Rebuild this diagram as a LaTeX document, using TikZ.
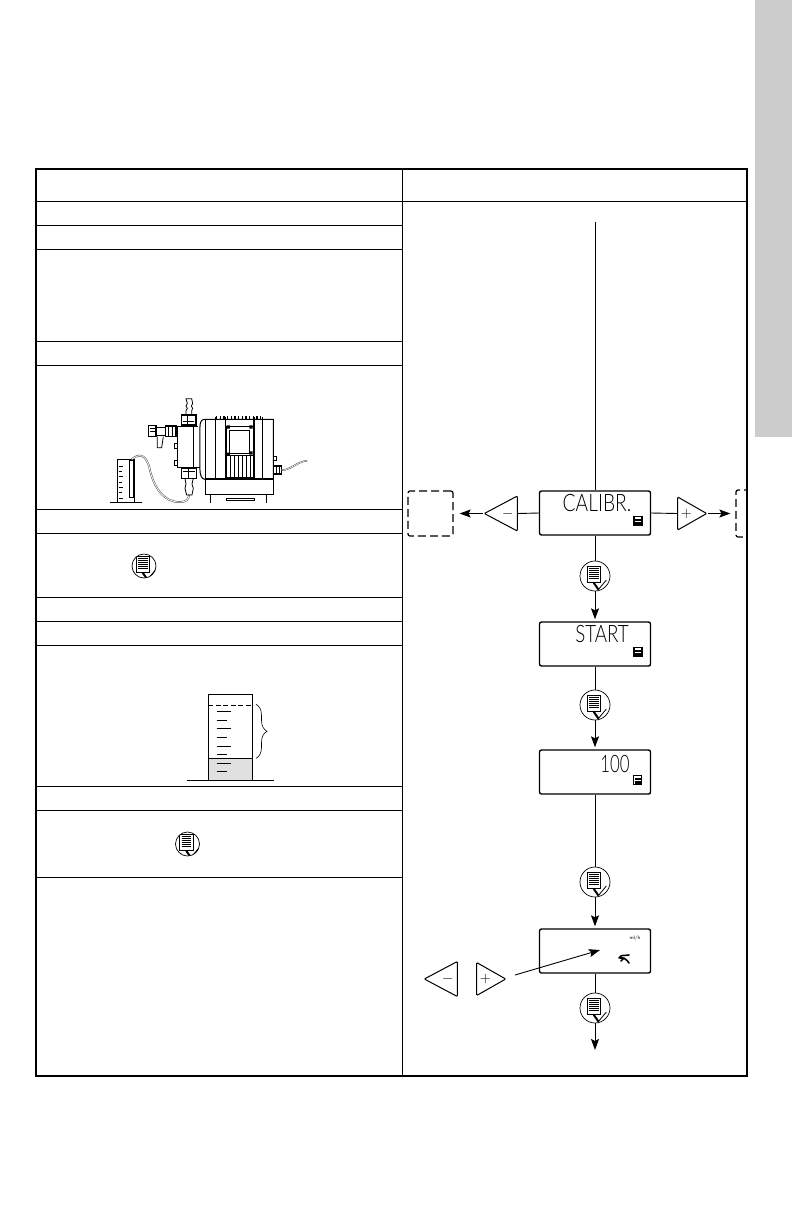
\documentclass[tikz,border=0pt]{standalone}
\usepackage{fontspec}
\newfontfamily\lcdfont[UprightFont=* Light]{Lato}
\usetikzlibrary{arrows.meta, shapes.geometric, decorations.pathreplacing, positioning}
\definecolor{tabgray}{gray}{0.8}
\definecolor{fillgray}{gray}{0.88}
\tikzset{menubtn/.style={circle,draw,line width=0.7pt,inner sep=0pt,minimum size=30pt*#1,path picture={
			\begin{scope}[shift={(path picture bounding box.center)},scale=#1]
			\draw[line width=1pt,fill=white] (-8,-10) rectangle (5.7,6);
			\draw[line width=0.8pt] (-6,-7.5)--(3.7,-7.5) (-6,-5.5)--(3.7,-5.5) (-6,-3.5)--(3.7,-3.5) (-6,-1.5)--(3.7,-1.5) (-6,0.5)--(3.7,0.5) (-6,2.5)--(3.7,2.5);
			\draw[line width=2pt] (-1.2,6.8)--(3.4,13.6);
			\draw[line width=0.8pt] (3.4,13.6)--(11.3,4);
			\end{scope}
}}}
\tikzset{lcd/.style={draw,line width=1.4pt,rounded corners=2pt,minimum width=111pt,minimum height=44pt,inner sep=0pt}}
\tikzset{lcdtext/.style={inner sep=0pt,font=\lcdfont\fontsize{24}{24}\selectfont}}
\tikzset{lcdbat/.style={draw,line width=1.1pt,minimum width=8pt,minimum height=9pt,inner sep=0pt,path picture={
			\fill[black] ([shift={(1pt,1pt)}]path picture bounding box.south west) rectangle ([shift={(-1pt,-2.5pt)}]path picture bounding box.north east);
			\draw[white,line width=0.5pt] (path picture bounding box.west)--(path picture bounding box.east);
}}}
\tikzset{dashbox/.style={draw,line width=1.2pt,dash pattern=on 8pt off 4pt,rounded corners=2pt,inner sep=0pt}}
\tikzset{keyleft/.style={isosceles triangle,isosceles triangle stretches,shape border rotate=180,draw,line width=1pt,inner sep=0pt,rounded corners=1pt,minimum width=35pt,minimum height=33pt,font=\Large}}
\tikzset{keyright/.style={isosceles triangle,isosceles triangle stretches,draw,line width=1pt,inner sep=0pt,rounded corners=1pt,minimum width=33pt,minimum height=29pt,font=\Large}}
\tikzset{flow/.style={line width=0.9pt,-{Stealth[length=11pt,width=8pt,inset=2pt]}}}
\tikzset{rowline/.style={line width=1pt}}
\tikzset{pumpline/.style={line width=0.8pt}}
\begin{document}
\begin{tikzpicture}[x=1pt,y=-1pt]
			\useasboundingbox (0,0) rectangle (792,1224);
			\fill[tabgray] (755,0) rectangle (792,437);
			% Rows of the left column
			\draw[rowline] (36,225) -- (402,225);
			\draw[rowline] (36,249) -- (402,249);
			\draw[rowline] (36,341) -- (402,341);
			\draw[rowline] (36,365) -- (402,365);
			\draw[rowline] (36,509) -- (402,509);
			\draw[rowline] (36,533) -- (402,533);
			\draw[rowline] (36,597) -- (402,597);
			\draw[rowline] (36,621) -- (402,621);
			\draw[rowline] (36,645) -- (402,645);
			\draw[rowline] (36,786) -- (402,786);
			\draw[rowline] (36,810) -- (402,810);
			\draw[rowline] (36,877) -- (402,877);
			\draw[rowline] (36,201) -- (747,201);
			\draw[rowline] (402.5,169) -- (402.5,1076);
			% Pump
			\begin{scope}[shift={(100,380)},x=0.3333pt,y=-0.3333pt,pumpline]
			\draw[line width=1pt] (30,368) -- (125,368);
			\draw[line width=1pt] (52,368) -- (52,238) -- (104,238) -- (104,368);
			\draw (88,352) rectangle (100,240);
			\draw (56,258) -- (70,258) (56,274) -- (66,274) (56,290) -- (70,290) (56,306) -- (66,306) (56,322) -- (70,322) (56,338) -- (66,338) (56,354) -- (70,354);
			\draw[black!70,double=white,double distance=0.8pt,line width=0.5pt] (95,238) .. controls (115,222) and (135,218) .. (148,262) .. controls (160,320) and (190,368) .. (240,366) .. controls (258,366) and (266,360) .. (268,342);
			\draw[line width=1pt] (232,140) rectangle (280,262);
			\draw (222,190) rectangle (232,205) (222,242) rectangle (232,256);
			\draw[line width=1.3pt] (245,105) rectangle (288,135);
			\draw (250,125) -- (283,125) (262,105) -- (262,135);
			\draw (258,105) -- (258,92) -- (262,85) -- (258,78) -- (262,70) -- (258,56) -- (275,56) -- (278,70) -- (274,78) -- (278,85) -- (275,92) -- (275,105);
			\draw[line width=1.3pt] (245,265) rectangle (290,295);
			\draw (250,275) -- (285,275) (266,265) -- (266,295);
			\draw (255,295) -- (258,312) -- (255,325) -- (260,345) -- (276,345) -- (280,325) -- (276,312) -- (280,295);
			\draw[line width=1.3pt] (146,137) rectangle (168,170);
			\draw (150,145) -- (164,145) (150,155) -- (164,155);
			\draw (168,142) -- (196,142) (168,165) -- (196,165);
			\draw[line width=1.3pt] (196,138) rectangle (228,170);
			\draw (205,138) -- (205,170) (216,138) -- (216,170);
			\draw (172,170) -- (172,203) -- (185,203) -- (190,170);
			\draw (280,140) -- (295,140) (280,262) -- (300,262);
			\draw[line width=1pt] (300,140) .. controls (300,125) and (305,118) .. (315,118) -- (520,118) -- (520,298) -- (315,298) .. controls (305,298) and (300,285) .. (300,270) -- cycle;
			\draw (315,118) -- (315,298);
			\draw (345,110) -- (345,296) (375,110) -- (375,296);
			\draw[line width=1.4pt] (462,110) -- (462,296) (487,110) -- (487,296);
			\draw[line width=1.1pt] (350,108) -- (350,118) (361,108) -- (361,118) (372,108) -- (372,118) (383,108) -- (383,118) (394,108) -- (394,118) (405,108) -- (405,118) (416,108) -- (416,118) (427,108) -- (427,118) (438,108) -- (438,118) (449,108) -- (449,118) (460,108) -- (460,118) (471,108) -- (471,118) (482,108) -- (482,118);
			\draw[line width=1pt] (380,140) rectangle (460,226);
			\draw[line width=1pt] (390,150) rectangle (448,222);
			\fill (380,136) rectangle (390,146) (448,136) rectangle (458,146) (380,218) rectangle (390,228) (448,214) rectangle (458,224);
			\draw (378,226) -- (378,292) -- (460,292) (390,226) -- (390,292) (402,226) -- (402,292) (414,226) -- (414,292) (426,226) -- (426,292) (438,226) -- (438,292) (450,226) -- (450,292);
			\draw[line width=1.8pt] (315,296) -- (520,296);
			\draw[line width=1pt] (317,298) -- (317,345) -- (520,345) -- (520,298);
			\draw (330,345) -- (330,370) (500,345) -- (500,370) (378,355) rectangle (462,362);
			\draw (520,228) rectangle (530,242);
			\draw[line width=1.3pt] (520,258) rectangle (545,282);
			\draw (530,258) -- (530,282) (538,258) -- (538,282);
			\draw[black!70,double=white,double distance=0.6pt,line width=0.5pt] (545,270) .. controls (570,272) and (590,245) .. (622,242);
			\end{scope}
			% Measuring glass
			\fill[fillgray] (208.3,758.3) rectangle (252.3,780.3);
			\draw[line width=0.8pt] (208.3,694.3) rectangle (252.3,780.3);
			\draw[line width=0.8pt] (208.3,758.3) -- (252.3,758.3);
			\draw[line width=0.8pt] (187.3,780.3) -- (274,780.3);
			\draw[line width=0.8pt,dash pattern=on 5pt off 2.5pt] (208.3,705.3) -- (252.3,705.3);
			\draw[line width=0.7pt] (216.7,711.3) -- (231,711.3);
			\draw[line width=0.7pt] (216.7,720.3) -- (226.7,720.3);
			\draw[line width=0.7pt] (216.7,728.3) -- (231,728.3);
			\draw[line width=0.7pt] (216.7,737.3) -- (226.7,737.3);
			\draw[line width=0.7pt] (216.7,746.3) -- (231,746.3);
			\draw[line width=0.7pt] (216.7,754.3) -- (226.7,754.3);
			\draw[line width=0.7pt] (216.7,763.3) -- (231,763.3);
			\draw[line width=0.7pt] (216.7,771.3) -- (226.7,771.3);
			\draw[line width=0.6pt,decorate,decoration={brace,amplitude=11pt,aspect=0.5}] (256,704.3) -- (256,758.3);
			% Buttons in the left column
			\node[menubtn=0.8] (btnLeftA) at (144,566) {};
			\node[menubtn=0.8] (btnLeftB) at (187.5,844) {};
			% Displays
			\coordinate (feed) at (595,222);
			\node[lcd] (calibr) at (595,513) {};
			\node[lcd] (startbox) at (595,644) {};
			\node[lcd] (hundred) at (595,772) {};
			\node[lcd] (rate) at (595,951) {};
			\node[lcdtext] (calibrtxt) at (597,503) {\scalebox{0.8}[1]{CALIBR.}};
			\node[lcdtext] (starttxt) at (602,634) {\scalebox{0.78}[1]{START}};
			\node[lcdtext] (hundredtxt) at (615,763.5) {\scalebox{0.7}[1]{100}};
			\node[lcdbat] (batA) at (638,521) {};
			\node[lcdbat] (batB) at (638,652) {};
			\node[lcdbat] (batC) at (637.5,780) {};
			\node[inner sep=0pt,font=\fontsize{5}{5}\selectfont\sffamily] (rateunit) at (635,938) {ml/h};
			\draw[line width=1.6pt,line cap=round] (619,958) .. controls (621,954) and (625,956) .. (629,955) (620,958) .. controls (624,957) and (627,960) .. (629,963) (621,961) -- (624,958);
			% Buttons in the flow
			\node[menubtn=1] (btnA) at (595,576) {};
			\node[menubtn=1] (btnB) at (595,705) {};
			\node[menubtn=1] (btnC) at (595,882) {};
			\node[menubtn=1] (btnD) at (595,1008) {};
			\coordinate (exit) at (595,1050);
			\draw[line width=0.9pt] (feed) -- (calibr);
			\draw[line width=0.9pt] (calibr) -- (btnA);
			\draw[flow,shorten >=2pt] (btnA) -- (startbox);
			\draw[line width=0.9pt] (startbox) -- (btnB);
			\draw[flow,shorten >=2pt] (btnB) -- (hundred);
			\draw[line width=0.9pt] (hundred) -- (btnC);
			\draw[flow,shorten >=2pt] (btnC) -- (rate);
			\draw[line width=0.9pt] (rate) -- (btnD);
			\draw[flow] (btnD) -- (exit);
			% Keys beside the first display
			\node[keyleft,anchor=apex] (minusA) at (483,513.5) {$-$};
			\node[keyright,anchor=apex] (plusA) at (708,513.5) {$+$};
			\node[dashbox,minimum width=45pt,minimum height=45pt] (menuLeft) at (430.5,513.5) {};
			\begin{scope}
			\clip (730,480) rectangle (746,545);
			\node[dashbox,minimum width=30pt,minimum height=47pt] (menuRight) at (751,513.5) {};
			\end{scope}
			\draw[line width=0.9pt] (calibr.west) -- (minusA.lower side);
			\draw[line width=0.9pt] (calibr.east) -- (plusA.lower side);
			\draw[flow,shorten >=6pt] (minusA.apex) -- (menuLeft.east);
			\draw[flow,shorten >=5pt] (plusA.apex) -- (menuRight.west);
			% Keys beside the last display
			\node[keyleft,anchor=apex] (minusB) at (423,979) {$-$};
			\node[keyright,anchor=apex] (plusB) at (507,979) {$+$};
			\coordinate (rateFrom) at (515,975);
			\coordinate (rateTo) at (600,950);
			\draw[flow] (rateFrom) -- (rateTo);
			% Outer frame
			\draw[line width=2pt] (36,169) rectangle (747,1076);
		\end{tikzpicture}
\end{document}
